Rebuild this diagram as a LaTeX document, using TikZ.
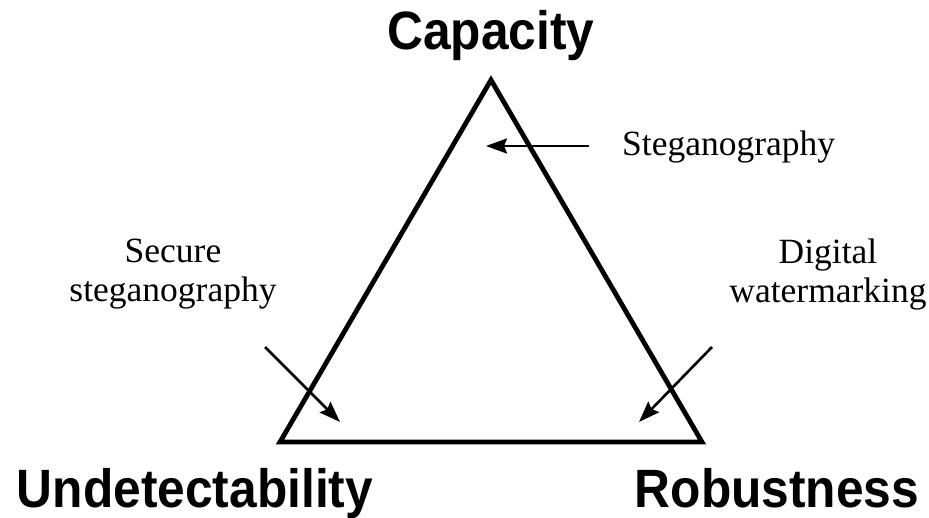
\documentclass[tikz,border=0pt]{standalone}
\usepackage{fontspec}
\setmainfont{Liberation Serif}
\newfontfamily\arialfont{Liberation Sans}
\usetikzlibrary{arrows.meta}
\begin{document}
\begin{tikzpicture}[x=1pt,y=-1pt,
  corner/.style={inner sep=0pt, anchor=base, xscale=0.92, font=\arialfont\bfseries\fontsize{54}{60}\selectfont},
  note/.style={inner sep=0pt, anchor=base, align=center, font=\fontsize{35.5}{39}\selectfont},
  side/.style={line width=4.8pt, line join=miter},
  pointer/.style={line width=2.6pt, -{Stealth[length=21pt,width=15pt,inset=3pt]}}]
\useasboundingbox (0,0) rectangle (929,518);
\coordinate (top) at (491,80);
\coordinate (bl) at (280,442);
\coordinate (br) at (702,442);
\draw[side] (top) -- (bl) -- (br) -- cycle;
\node[corner] (cap) at (491,50) {Capacity};
\node[corner] (und) at (195,507) {Undetectability};
\node[corner] (rob) at (777,507) {Robustness};
\node[note, anchor=base west] (steg) at (622,156) {Steganography};
\node[note] (sec) at (173,302) {Secure\\steganography};
\node[note] (dig) at (828,303) {Digital\\watermarking};
\coordinate (a1s) at (589,146);
\coordinate (a1e) at (486,146);
\coordinate (a2s) at (265,347);
\coordinate (a2e) at (340,422);
\coordinate (a3s) at (712,347);
\coordinate (a3e) at (639,422);
\draw[pointer] (a1s) -- (a1e);
\draw[pointer] (a2s) -- (a2e);
\draw[pointer] (a3s) -- (a3e);
\end{tikzpicture}
\end{document}
